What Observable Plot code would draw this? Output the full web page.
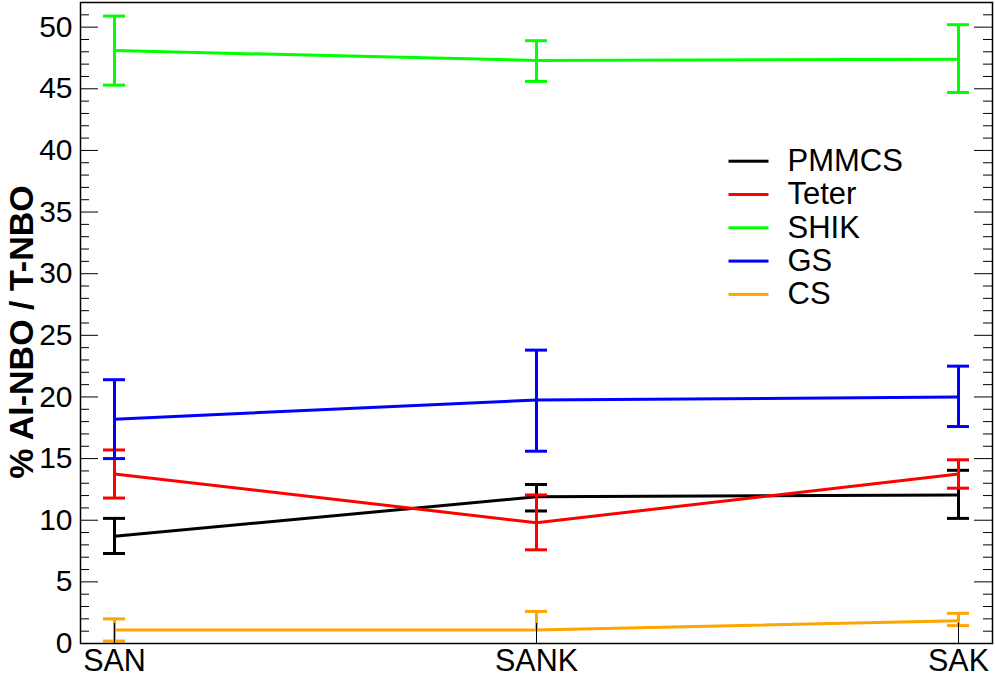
<!DOCTYPE html>
<html><head><meta charset="utf-8">
<script src="https://cdn.jsdelivr.net/npm/d3@7"></script>
<script src="https://cdn.jsdelivr.net/npm/@observablehq/plot@0.6"></script>
<style>html,body{margin:0;padding:0;background:#fff;}</style>
</head><body><div id="chart"></div>
<script>
// ---- data ----
const categories = ["SAN", "SANK", "SAK"];
const seriesNames = ["PMMCS", "Teter", "SHIK", "GS", "CS"];
const seriesColors = ["#000000", "#ff0000", "#00ff00", "#0000ff", "#ffa500"];

const pmmcsMean = [8.7, 11.9, 12.05];
const pmmcsLow  = [7.3, 10.75, 10.15];
const pmmcsHigh = [10.15, 12.9, 14.05];

const teterMean = [13.75, 9.8, 13.75];
const teterLow  = [11.8, 7.6, 12.6];
const teterHigh = [15.7, 12.05, 14.9];

const shikMean = [48.1, 47.3, 47.4];
const shikLow  = [45.3, 45.6, 44.7];
const shikHigh = [50.9, 48.9, 50.2];

const gsMean = [18.2, 19.75, 20.0];
const gsLow  = [15.0, 15.6, 17.6];
const gsHigh = [21.4, 23.8, 22.5];

const csMean = [1.1, 1.1, 1.85];
const csLow  = [0.2, null, 1.45];
const csHigh = [2.0, 2.6, 2.45];

const yMajorTicks = [0, 5, 10, 15, 20, 25, 30, 35, 40, 45, 50];
const yMinorTicks = [1,2,3,4,6,7,8,9,11,12,13,14,16,17,18,19,21,22,23,24,26,27,28,29,31,32,33,34,36,37,38,39,41,42,43,44,46,47,48,49,51];
const yLabel = "% Al-NBO / T-NBO";

// ---- build table ----
const seriesData = [
  [pmmcsMean, pmmcsLow, pmmcsHigh],
  [teterMean, teterLow, teterHigh],
  [shikMean, shikLow, shikHigh],
  [gsMean, gsLow, gsHigh],
  [csMean, csLow, csHigh]
];

const W = 995, H = 677;
const mL = 80, mR = 3, mT = 2, mB = 34;
const frameW = W - mL - mR, frameH = H - mT - mB;

const marks = [];
seriesNames.forEach((name, si) => {
  const [m, lo, hi] = seriesData[si];
  const rows = categories.map((c, i) => ({series: name, cat: c, val: m[i], lo: lo[i], hi: hi[i]}));
  marks.push(Plot.line(rows, {x: "cat", y: "val", stroke: "series", strokeWidth: 3, strokeLinejoin: "miter", strokeLinecap: "butt"}));
  marks.push(Plot.ruleX(rows, {x: "cat", y1: d => d.lo ?? d.val, y2: "hi", stroke: "series", strokeWidth: 3}));
  marks.push(Plot.ruleY(rows.filter(d => d.lo != null), {x1: "cat", x2: "cat", y: "lo", stroke: "series", strokeWidth: 3, insetLeft: -11, insetRight: -11}));
  marks.push(Plot.ruleY(rows, {x1: "cat", x2: "cat", y: "hi", stroke: "series", strokeWidth: 3, insetLeft: -11, insetRight: -11}));
});

// inward ticks
marks.push(Plot.tickY(yMajorTicks, {y: d => d, stroke: "black", strokeWidth: 1, insetRight: frameW - 18}));
marks.push(Plot.tickY(yMinorTicks, {y: d => d, stroke: "black", strokeWidth: 1, insetRight: frameW - 9}));
marks.push(Plot.tickY(yMajorTicks, {y: d => d, stroke: "black", strokeWidth: 1, insetLeft: frameW - 18}));
marks.push(Plot.tickY(yMinorTicks, {y: d => d, stroke: "black", strokeWidth: 1, insetLeft: frameW - 9}));
marks.push(Plot.ruleX(categories, {x: d => d, stroke: "black", strokeWidth: 1, insetTop: frameH - 20}));

// axes labels
marks.push(Plot.axisY({ticks: yMajorTicks, tickSize: 0, tickPadding: 8, fontSize: 30, label: null}));
marks.push(Plot.axisX({tickSize: 0, tickPadding: 6, fontSize: 30.5, label: null}));
marks.push(Plot.text([yLabel], {frameAnchor: "left", textAnchor: "middle", lineAnchor: "middle", dx: -58, dy: 9, rotate: -90, fontSize: 34, fontWeight: "bold", fill: "black"}));

// legend
seriesNames.forEach((name, i) => {
  const cy = 160.7 + 33.3 * i;
  marks.push(Plot.frame({fill: seriesColors[i], stroke: null,
    insetLeft: 728 - mL, insetRight: (W - mR) - 768,
    insetTop: cy - 1.5 - mT, insetBottom: (H - mB) - (cy + 1.5)}));
  marks.push(Plot.text([name], {frameAnchor: "top-left", dx: 787 - mL, dy: cy - mT, textAnchor: "start", lineAnchor: "middle", fontSize: 31, fill: "black"}));
});

marks.push(Plot.frame({stroke: "black", strokeWidth: 1.5}));

const chart = Plot.plot({
  width: W, height: H,
  marginLeft: mL, marginRight: mR, marginTop: mT, marginBottom: mB,
  style: {fontFamily: "'Liberation Sans', Arial, Helvetica, sans-serif", background: "#fff", color: "black"},
  x: {type: "point", domain: categories, padding: 0.079, axis: null},
  y: {domain: [0, 52], axis: null},
  color: {domain: seriesNames, range: seriesColors},
  marks
});
document.getElementById("chart").appendChild(chart);
</script>
</body></html>
